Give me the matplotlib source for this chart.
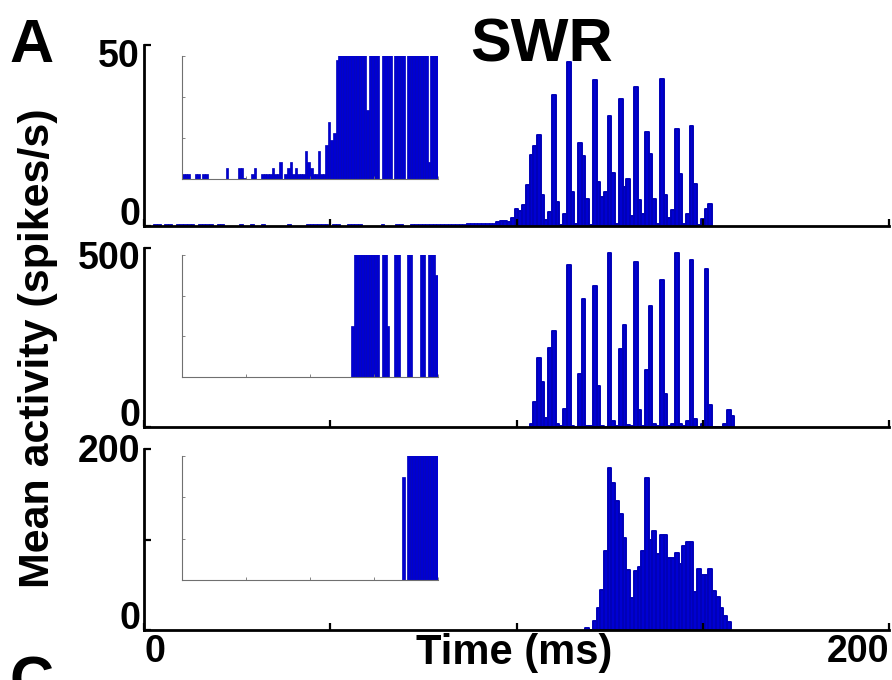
import matplotlib
matplotlib.use("Agg")
import matplotlib.pyplot as plt

plt.rcParams["font.family"] = ["Liberation Sans", "DejaVu Sans"]

# ---------------- data (1 ms bins, bar centred on the bin index) ----------------
time_ticks = [0, 50, 100, 150, 200]
time_tick_labels = ["0", "", "", "", "200"]

# top population: sparse background then ripple-locked burst
top_bg_bins = [3, 4, 6, 7, 9, 10, 11, 12, 13, 15, 16, 17, 18, 20, 21, 26, 29, 32, 39,
               44, 45, 46, 47, 48, 49, 51, 52, 55, 56, 57, 58, 64, 68, 69,
               72, 73, 74, 75, 76, 77, 78, 79, 80, 81, 82, 83, 84, 85, 86, 87, 88,
               89, 90, 91, 92, 93, 94]
top_bg_rates = [0.5, 0.5, 0.5, 0.5, 0.5, 0.5, 0.5, 0.5, 0.5, 0.5, 0.5, 0.5,
                0.5, 0.5, 0.5, 0.5, 0.5, 0.5, 0.5, 0.5, 0.5, 0.5, 0.5, 0.5, 0.5,
                0.5, 0.5, 0.5, 0.5, 0.5, 0.5, 0.5, 0.5, 0.5, 0.5, 0.5, 0.5, 0.5,
                0.5, 0.5, 0.5, 0.5, 0.5, 0.5, 0.5, 0.5, 0.5, 0.6, 0.6, 0.7, 0.7,
                0.7, 0.8, 0.8, 0.8, 0.9, 0.9]
top_start = 95
top_rates = [1.0, 1.4, 1.4, 1.0, 2.3, 4.6, 4.2, 5.8, 11.4, 19.7, 22.2, 25.2, 8.5, 1.7,
             4.0, 36.1, 6.7, 0.2, 3.2, 45.4, 9.3, 0.5, 23.0, 19.3, 7.4, 0.2, 40.3,
             12.2, 8.1, 9.3, 30.3, 14.6, 0.6, 35.2, 10.9, 13.0, 2.8, 38.4, 7.1, 3.2,
             25.9, 19.9, 7.4, 0.5, 40.6, 8.6, 2.3, 4.4, 26.9, 14.4, 0.5, 3.2, 27.5,
             11.6, 0.2, 1.9, 4.6, 6.2]

mid_start = 104
mid_rates = [7, 70, 194, 126, 25, 221, 268, 9, 2, 49, 453, 2, 0, 149, 357, 2, 2, 394,
             114, 2, 0, 486, 17, 2, 219, 284, 5, 2, 461, 47, 2, 158, 337, 9, 2, 412,
             93, 2, 9, 486, 9, 2, 17, 467, 21, 0, 9, 440, 61, 0, 0, 0, 7, 48, 31]

bot_start = 119
bot_rates = [1.8, 0, 10.4, 24.4, 44.7, 87.2, 179.3, 161.9, 142.3, 128.6, 102, 66.5,
             35.5, 64.7, 69.5, 87.2, 167.5, 99.8, 109, 83.5, 104.6, 104.6, 79.9, 79.9,
             85, 73.2, 92.4, 97.2, 97.2, 41.8, 66.9, 60.3, 60.3, 66.9, 42.9, 37, 24.4,
             15.9, 8.5]

# magnified onset views (fraction of inset scale; values above 1 run off the top)
inset_ticks_x = [0, 25, 50, 75, 100]
inset_ticks_y = [0, 1 / 3, 2 / 3, 1]
top_inset_start = 0
top_inset = [.04, .04, .04, 0, 0, .04, .04, 0, .04, .04,
             0, 0, 0, 0, 0, 0, 0, .09, 0, 0,
             0, 0, .09, .09, .01, 0, 0, .04, .09, 0,
             0, .04, .04, .04, .04, .09, .04, .04, .135, 0,
             .04, .09, .135, .04, .09, .04, .04, .04, .23, .135,
             .09, .04, .04, .23, .04, .04, .28, .46, .32, .37,
             .97, 2, 2, 2, 2, 2, 2, 2, 2, 2,
             2, 2, .56, 2, 2, 2, 2, 0, 2, 2,
             2, 2, 0, 2, 2, 2, 2, 0, 2, 2,
             2, 2, 2, 2, 2, 2, .14, 2, 2, 2]
mid_inset_start = 66
mid_inset = [.42, 2, 2, 2, 2, 2, 2, 2, 2, 2, 2, 0, 2, 2, .42, 0, 0, 2, 2, 0, 0, 0,
             2, 2, 0, 0, 0, 2, 2, 0, 2, 2, 2, .84]
bot_inset_start = 86
bot_inset = [.83, 0, 2, 2, 2, 2, 2, 2, 2, 2, 2, 2, 2, 2]

# ---------------- figure ----------------
W, H = 892, 680
fig = plt.figure(figsize=(W / 100, H / 100), dpi=100)


def rect(left, top, right, bottom):
    return [left / W, 1 - bottom / H, (right - left) / W, (bottom - top) / H]


BLUE = "#0000D2"
EDGE = "#0000B8"
TICK_FS = 27

panels = [
    dict(box=(144, 45, 889, 226), ymax=50, yticks=[0, 50], ylabels=["0", "50"],
         ylab_dy=[-1, 22], bins=list(range(top_start, top_start + len(top_rates))),
         rates=top_rates, inset_box=(182, 56, 438, 179),
         inset=top_inset, inset_start=top_inset_start),
    dict(box=(144, 248, 889, 427), ymax=500, yticks=[0, 500], ylabels=["0", "500"],
         ylab_dy=[-1, 21], bins=list(range(mid_start, mid_start + len(mid_rates))),
         rates=mid_rates, inset_box=(182, 255, 438, 377),
         inset=mid_inset, inset_start=mid_inset_start),
    dict(box=(144, 449, 889, 630), ymax=200, yticks=[0, 100, 200],
         ylabels=["0", None, "200"], ylab_dy=[-1, 0, 13],
         bins=list(range(bot_start, bot_start + len(bot_rates))),
         rates=bot_rates, inset_box=(182, 456, 438, 580),
         inset=bot_inset, inset_start=bot_inset_start),
]

for i, p in enumerate(panels):
    ax = fig.add_axes(rect(*p["box"]))
    ax.bar(p["bins"], p["rates"], width=1.0, color=BLUE, edgecolor=EDGE,
           linewidth=1.4, joinstyle="round", zorder=1)
    if i == 0:
        ax.bar(top_bg_bins, top_bg_rates, width=1.0, color=BLUE, edgecolor=EDGE,
               linewidth=0.6, zorder=1)
    ax.set_xlim(0, 200)
    ax.set_ylim(0, p["ymax"])
    for s in ("top", "right"):
        ax.spines[s].set_visible(False)
    for s in ("left", "bottom"):
        ax.spines[s].set_linewidth(2.0)
        ax.spines[s].set_zorder(3)
    ax.set_xticks(time_ticks)
    ax.set_yticks(p["yticks"])
    ax.set_yticklabels([])
    ax.set_xticklabels([])
    ax.tick_params(direction="in", length=5, width=1.6, color="black")
    if i == 2:
        for xv, lab in zip(time_ticks, time_tick_labels):
            if lab:
                ax.annotate(lab, xy=(xv, 0), xycoords=("data", "axes fraction"),
                            xytext=(0, -32), textcoords="offset pixels",
                            ha="left" if xv == 0 else "right", va="baseline",
                            fontsize=TICK_FS, fontweight="bold")
    for yv, lab, dy in zip(p["yticks"], p["ylabels"], p["ylab_dy"]):
        if lab is None:
            continue
        ax.annotate(lab, xy=(0, yv), xycoords=("axes fraction", "data"),
                    xytext=(-4, -dy), textcoords="offset pixels",
                    ha="right", va="baseline", fontsize=TICK_FS, fontweight="bold")

    # magnified onset
    ins = fig.add_axes(rect(*p["inset_box"]))
    ins_bins = list(range(p["inset_start"], p["inset_start"] + len(p["inset"])))
    ins.bar(ins_bins, p["inset"], width=1.0, align="edge", color=BLUE,
            edgecolor=EDGE, linewidth=0.5, zorder=1)
    ins.set_xlim(0, 100)
    ins.set_ylim(0, 1)
    for s in ("top", "right"):
        ins.spines[s].set_visible(False)
    for s in ("left", "bottom"):
        ins.spines[s].set_linewidth(0.8)
        ins.spines[s].set_color("#707070")
        ins.spines[s].set_zorder(3)
    ins.set_xticks(inset_ticks_x)
    ins.set_yticks(inset_ticks_y)
    ins.set_xticklabels([])
    ins.set_yticklabels([])
    ins.tick_params(direction="in", length=2.5, width=0.6, color="#707070")
    ins.patch.set_alpha(0)

fig.text(9 / W, 1 - 62 / H, "A", fontsize=44, fontweight="bold",
         ha="left", va="baseline")
fig.text(542 / W, 1 - 62 / H, "SWR", fontsize=44, fontweight="bold",
         ha="center", va="baseline")
fig.text(10 / W, 1 - 700 / H, "C", fontsize=44, fontweight="bold",
         ha="left", va="baseline")
fig.text(514 / W, 1 - 664 / H, "Time (ms)", fontsize=30, fontweight="bold",
         ha="center", va="baseline")
fig.text(38 / W, 1 - 348 / H, "Mean activity (spikes/s)", fontsize=31,
         fontweight="bold", rotation=90, ha="center", va="center")

fig.savefig("out.png", dpi=100, facecolor="white")
